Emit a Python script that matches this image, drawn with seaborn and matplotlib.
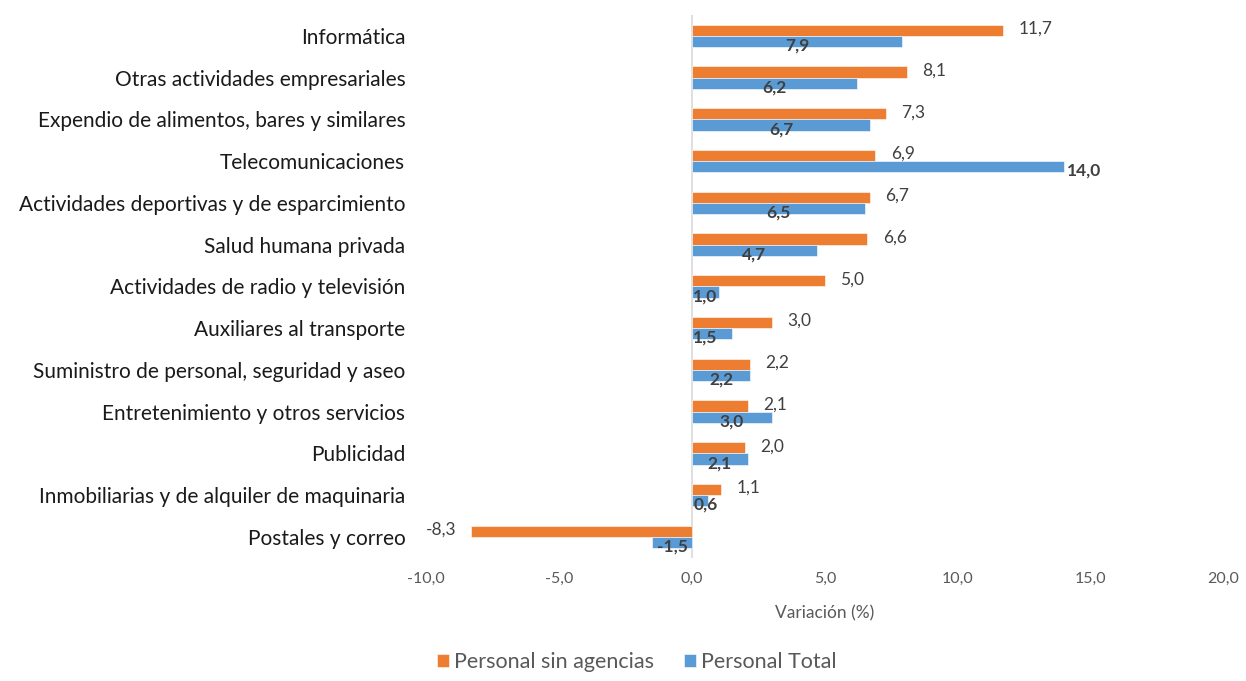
# plot.py
# Variación del personal ocupado por subsector de servicios

import numpy as np
import pandas as pd
import matplotlib
matplotlib.use('Agg')
import matplotlib.pyplot as plt
import seaborn as sns

categories = [
    'Informática',
    'Otras actividades empresariales',
    'Expendio de alimentos, bares y similares',
    'Telecomunicaciones',
    'Actividades deportivas y de esparcimiento',
    'Salud humana privada',
    'Actividades de radio y televisión',
    'Auxiliares al transporte',
    'Suministro de personal, seguridad y aseo',
    'Entretenimiento y otros servicios',
    'Publicidad',
    'Inmobiliarias y de alquiler de maquinaria',
    'Postales y correo',
]
sin_agencias = [11.7, 8.1, 7.3, 6.9, 6.7, 6.6, 5.0, 3.0, 2.2, 2.1, 2.0, 1.1, -8.3]
total = [7.9, 6.2, 6.7, 14.0, 6.5, 4.7, 1.0, 1.5, 2.2, 3.0, 2.1, 0.6, -1.5]
series = ['Personal sin agencias', 'Personal Total']
x_ticks = [-10, -5, 0, 5, 10, 15, 20]

ORANGE = '#ED7D31'
BLUE = '#5B9BD5'
GRAY = '#595959'
DARK = '#404040'


def fmt(v):
    return f'{v:.1f}'.replace('.', ',')


df = pd.DataFrame({
    'categoria': categories * 2,
    'serie': [series[0]] * len(categories) + [series[1]] * len(categories),
    'valor': sin_agencias + total,
})

sns.set_theme(style='white')
plt.rcParams['font.family'] = ['Lato', 'DejaVu Sans']

fig = plt.figure(figsize=(12.46, 6.81), dpi=100)
ax = fig.add_axes([0.342, 0.181, 0.640, 0.797])

sns.barplot(data=df, y='categoria', x='valor', hue='serie', order=categories,
            hue_order=series, palette=[ORANGE, BLUE], saturation=1, width=0.54,
            orient='h', edgecolor='white', linewidth=0.4, ax=ax)

ax.set_xlim(-10, 20)
ax.set_ylim(len(categories) - 0.5, -0.5)
ax.set_xticks(x_ticks)
ax.set_xticklabels([fmt(t) for t in x_ticks], color=GRAY, fontsize=11.5)
ax.tick_params(axis='x', length=0, pad=10)
ax.tick_params(axis='y', length=0, pad=15, labelsize=15, labelcolor='#1a1a1a')
ax.set_ylabel('')
ax.set_xlabel('Variación (%)', color=GRAY, fontsize=12.5, labelpad=14)
for s in ax.spines.values():
    s.set_visible(False)
ax.axvline(0, color='#d9d9d9', linewidth=1.2, zorder=0)

# data labels
orange_bars, blue_bars = ax.containers[0], ax.containers[1]
for bar, v in zip(orange_bars, sin_agencias):
    yc = bar.get_y() + bar.get_height() / 2
    ax.annotate(fmt(v), (v, yc), xytext=(11 if v >= 0 else -11, 1),
                textcoords='offset points', ha='left' if v >= 0 else 'right',
                va='center', fontsize=12.5, color=DARK)
for bar, v in zip(blue_bars, total):
    yc = bar.get_y() + bar.get_height() / 2
    if v > 12:
        ax.annotate(fmt(v), (v, yc), xytext=(2, -3), textcoords='offset points',
                    ha='left', va='center', fontsize=12.5, color=DARK,
                    fontweight='bold')
    elif 0 < v < 1.6:
        ax.annotate(fmt(v), (0, yc), xytext=(1, -3), textcoords='offset points',
                    ha='left', va='center', fontsize=12.5, color=DARK,
                    fontweight='bold')
    else:
        ax.annotate(fmt(v), (v / 2, yc), xytext=(0, -3), textcoords='offset points',
                    ha='center', va='center', fontsize=12.5, color=DARK,
                    fontweight='bold')

handles, labels = ax.get_legend_handles_labels()
ax.get_legend().remove()
leg = fig.legend(handles, labels, loc='center', bbox_to_anchor=(0.511, 1 - 662 / 681),
                 ncol=2, frameon=False, fontsize=15.5, handlelength=0.55,
                 handleheight=0.55, handletextpad=0.25, columnspacing=1.4)
for t in leg.get_texts():
    t.set_color(GRAY)

fig.savefig('out.png', dpi=100)
